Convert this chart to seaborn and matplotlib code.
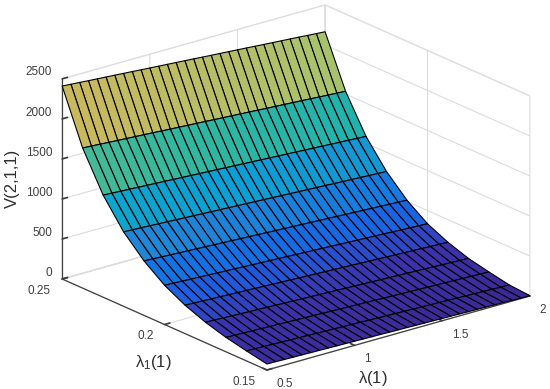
import numpy as np
import matplotlib
matplotlib.use("Agg")
import matplotlib.pyplot as plt
import seaborn as sns

lam = [0.5, 0.55, 0.6, 0.65, 0.7, 0.75, 0.8, 0.85, 0.9, 0.95, 1.0,
       1.05, 1.1, 1.15, 1.2, 1.25, 1.3, 1.35, 1.4, 1.45, 1.5,
       1.55, 1.6, 1.65, 1.7, 1.75, 1.8, 1.85, 1.9, 1.95, 2.0]
lam1 = [0.25, 0.24, 0.23, 0.22, 0.21, 0.2, 0.19, 0.18, 0.17, 0.16, 0.15]

# one row per lambda_1
v_025 = [2410,2402,2394,2385,2377,2369,2361,2353,2345,2336,2328,2320,2312,2304,2296,2288,2279,2271,2263,2255,2247,2239,2230,2222,2214,2206,2198,2190,2181,2173,2165]
v_024 = [1750,1743,1736,1728,1721,1714,1707,1700,1693,1685,1678,1671,1664,1657,1650,1642,1635,1628,1621,1614,1607,1599,1592,1585,1578,1571,1564,1556,1549,1542,1535]
v_023 = [1275,1269,1262,1256,1250,1243,1237,1231,1224,1218,1212,1205,1199,1193,1186,1180,1174,1167,1161,1155,1148,1142,1136,1129,1123,1117,1110,1104,1098,1091,1085]
v_022 = [930,924,919,913,907,902,896,890,885,879,873,868,862,856,851,845,839,834,828,822,817,811,805,800,794,788,783,777,771,766,760]
v_021 = [680,675,669,664,658,653,647,642,636,631,625,620,614,609,603,598,592,587,581,576,570,565,559,554,548,543,537,532,526,521,515]
v_020 = [490,485,480,474,469,464,459,454,449,443,438,433,428,423,418,413,407,402,397,392,387,381,376,371,366,361,356,350,345,340,335]
v_019 = [355,350,346,341,337,332,327,323,318,314,309,304,300,295,291,286,281,277,272,268,263,258,254,249,245,240,235,231,226,222,217]
v_018 = [255,251,247,243,238,234,230,226,222,217,213,209,205,201,197,193,188,184,180,176,172,167,163,159,155,151,147,142,138,134,130]
v_017 = [180,176,173,169,166,162,159,155,152,148,145,141,138,134,131,127,124,120,116,113,109,106,102,99,95,92,88,85,81,78,74]
v_016 = [125,122,118,115,112,108,105,102,98,95,92,88,85,82,78,75,72,68,65,62,58,55,52,48,45,42,38,35,32,28,25]
v_015 = [75,73,70,68,66,63,61,59,56,54,52,49,47,45,42,40,38,35,33,31,28,26,24,21,19,17,14,12,10,7,5]

x_ticks = [0.5, 1, 1.5, 2]
x_tick_labels = ["0.5", "1", "1.5", "2"]
y_ticks = [0.15, 0.2, 0.25]
y_tick_labels = ["0.15", "0.2", "0.25"]
z_ticks = [0, 500, 1000, 1500, 2000, 2500]

# colours sampled from the surface, low to high
stops = ["#3c2896", "#3c32ac", "#1c5fe1", "#1278e4", "#2389d2", "#0ca0d4",
         "#16afb9", "#32b7a0", "#6ebe82", "#a5c36e", "#c8b95f"]

sns.set_theme(style="white", font="Liberation Sans")
plt.rcParams["mathtext.fontset"] = "cm"
plt.rcParams["mathtext.default"] = "regular"

Z = np.array([v_025, v_024, v_023, v_022, v_021, v_020, v_019, v_018, v_017, v_016, v_015], dtype=float)
X, Y = np.meshgrid(lam, lam1)

cmap = sns.blend_palette(stops, n_colors=256, as_cmap=True)
face = cmap(Z / 2400.0)

fig = plt.figure(figsize=(5.5, 3.89), dpi=100)
ax = fig.add_axes([38.5 / 550, -56 / 389, 501.5 / 550, 501.5 / 389], projection="3d", proj_type="ortho")
ax.set_box_aspect((336, 329, 214))
ax.view_init(elev=20.7, azim=-128.5)

ax.plot_surface(X, Y, Z, facecolors=face[:-1, :-1], rstride=1, cstride=1,
                shade=False, edgecolor="black", linewidth=0.8)

ax.set_xlim(0.5, 2)
ax.set_ylim(0.15, 0.25)
ax.set_zlim(0, 2500)
ax.set_xticks(x_ticks)
ax.set_xticklabels(x_tick_labels)
ax.set_yticks(y_ticks)
ax.set_yticklabels(y_tick_labels)
ax.set_zticks(z_ticks)
ax.zaxis.set_ticks_position("upper")

for axis in [ax.xaxis, ax.yaxis, ax.zaxis]:
    axis.pane.fill = False
    axis.pane.set_edgecolor("#dcdcdc")
    axis.line.set_color("#404040")
    axis.line.set_linewidth(0.9)
    axis._axinfo["grid"].update(color="#dcdcdc", linewidth=0.8)
    axis._axinfo["tick"].update(inward_factor=0.0, outward_factor=0.25)
    axis._axinfo["tick"]["color"] = "#404040"
    axis.set_tick_params(labelsize=8.5, labelcolor="#404040", color="#404040", width=0.9, pad=0)
ax.xaxis.set_tick_params(pad=1)
ax.zaxis.set_tick_params(pad=-4)

for label in ax.get_xticklabels():
    label.set_ha("left")
    label.set_va("center")
for label in ax.get_yticklabels():
    label.set_ha("right")
    label.set_va("center")
for label in ax.get_zticklabels():
    label.set_ha("right")
    label.set_va("bottom")

fig.text(373 / 550, 1 - 378 / 389, r"$\lambda$(1)", fontsize=12, color="#303030", ha="center", va="center")
fig.text(153 / 550, 1 - 363 / 389, r"$\lambda_1$(1)", fontsize=12, color="#303030", ha="center", va="center")
fig.text(12 / 550, 1 - 178 / 389, "V(2,1,1)", fontsize=12, color="#303030", rotation=90, ha="center", va="center")

fig.savefig("out.png", dpi=100)
